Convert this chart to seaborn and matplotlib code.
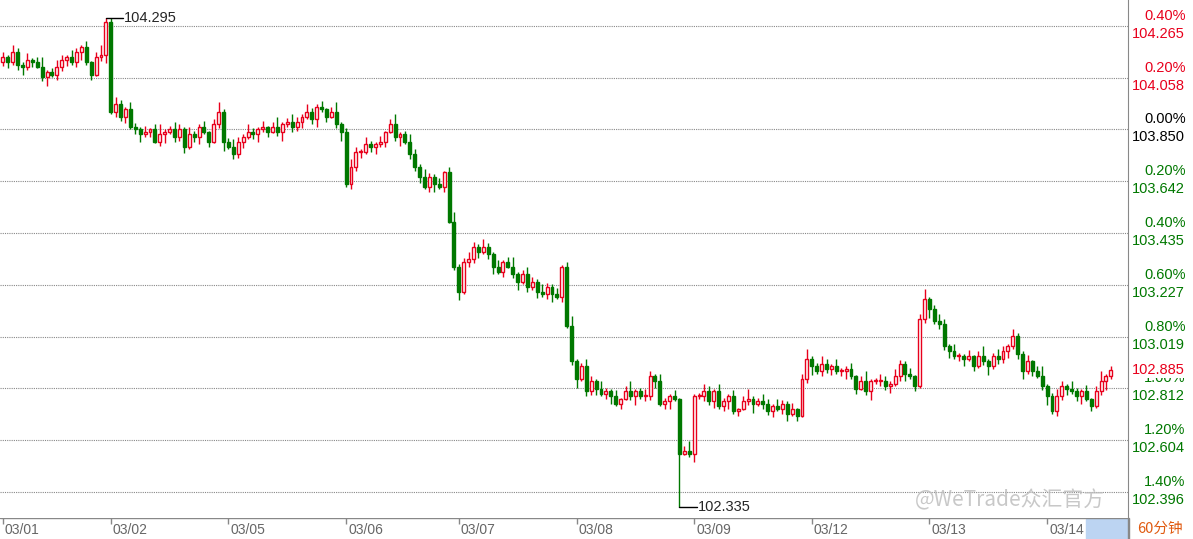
import numpy as np
import pandas as pd
import matplotlib
matplotlib.use("Agg")
import matplotlib.pyplot as plt
import seaborn as sb

# hourly closes, one list per trading day
d0301 = [104.14, 104.12, 104.16, 104.11, 104.10, 104.13, 104.12, 104.10, 104.06, 104.08, 104.07,
         104.10, 104.13, 104.14, 104.12, 104.16, 104.18, 104.12, 104.07, 104.14, 104.15, 104.28]
d0302 = [103.92, 103.95, 103.90, 103.93, 103.86, 103.85, 103.83, 103.84, 103.85, 103.80, 103.83, 103.84,
         103.85, 103.82, 103.85, 103.78, 103.83, 103.82, 103.86, 103.84, 103.80, 103.87, 103.92, 103.80]
d0305 = [103.78, 103.75, 103.80, 103.82, 103.84, 103.83, 103.85, 103.86, 103.84, 103.86, 103.84, 103.87,
         103.88, 103.86, 103.88, 103.90, 103.92, 103.89, 103.94, 103.93, 103.90, 103.92, 103.87, 103.84]
d0306 = [103.63, 103.70, 103.76, 103.76, 103.79, 103.78, 103.79, 103.80, 103.84, 103.87, 103.82, 103.83,
         103.80, 103.75, 103.70, 103.66, 103.62, 103.66, 103.63, 103.62, 103.68, 103.48, 103.30]
d0307 = [103.20, 103.32, 103.33, 103.38, 103.36, 103.38, 103.35, 103.30, 103.28, 103.32, 103.30, 103.27,
         103.24, 103.27, 103.22, 103.24, 103.20, 103.19, 103.22, 103.19, 103.18, 103.30, 103.06, 102.92]
d0308 = [102.85, 102.90, 102.80, 102.84, 102.81, 102.79, 102.80, 102.78, 102.75, 102.77, 102.80, 102.78,
         102.80, 102.78, 102.78, 102.86, 102.84, 102.75, 102.76, 102.78, 102.77, 102.55, 102.56, 102.55]
d0309 = [102.78, 102.78, 102.80, 102.76, 102.80, 102.74, 102.76, 102.78, 102.72, 102.73, 102.76, 102.77,
         102.75, 102.76, 102.75, 102.72, 102.74, 102.73, 102.75, 102.71, 102.73, 102.70, 102.85, 102.93]
d0312 = [102.90, 102.88, 102.91, 102.89, 102.90, 102.88, 102.88, 102.89, 102.86, 102.81, 102.84, 102.80,
         102.84, 102.84, 102.84, 102.82, 102.83, 102.86, 102.91, 102.87, 102.86, 102.82, 103.09, 103.17]
d0313 = [103.13, 103.08, 103.07, 102.98, 102.96, 102.94, 102.94, 102.93, 102.94, 102.90, 102.94, 102.92,
         102.90, 102.94, 102.93, 102.96, 102.98, 103.02, 102.95, 102.88, 102.92, 102.88, 102.86, 102.82]
d0314 = [102.78, 102.72, 102.78, 102.82, 102.81, 102.80, 102.78, 102.80, 102.77, 102.74, 102.80, 102.84,
         102.86, 102.885]
days = [d0301, d0302, d0305, d0306, d0307, d0308, d0309, d0312, d0313, d0314]
day_labels = ["03/01", "03/02", "03/05", "03/06", "03/07", "03/08", "03/09", "03/12", "03/13", "03/14"]

# wick lengths above / below the body (cycled)
wick_up = [0.02, 0.01, 0.03, 0.015, 0.01, 0.025, 0.005, 0.02, 0.04, 0.01, 0.015, 0.03]
wick_dn = [0.015, 0.025, 0.01, 0.02, 0.03, 0.01, 0.02, 0.005, 0.015, 0.035, 0.01, 0.02]

hi_price, lo_price = 104.295, 102.335
base = 103.850
grid_prices = [104.265, 104.058, 103.850, 103.642, 103.435, 103.227, 103.019, 102.812, 102.604, 102.396]
grid_pcts = ["0.40%", "0.20%", "0.00%", "0.20%", "0.40%", "0.60%", "0.80%", "1.00%", "1.20%", "1.40%"]
last_price = 102.885

close = np.array([v for d in days for v in d])
n = len(close)
opn = np.r_[104.12, close[:-1]]
hi = np.maximum(opn, close) + np.resize(wick_up, n)
lo = np.minimum(opn, close) - np.resize(wick_dn, n)
i_hi = int(np.argmax(close > 104.2))
hi[i_hi] = hi_price
i_lo = int(np.argmin(close))
lo[i_lo] = lo_price
df = pd.DataFrame({"o": opn, "h": hi, "l": lo, "c": close})
day_start = np.cumsum([0] + [len(d) for d in days[:-1]])

sb.set_style("white")
plt.rcParams["font.family"] = ["Liberation Sans", "Noto Sans CJK SC"]
W, H = 1193, 539
fig = plt.figure(figsize=(W / 100, H / 100), dpi=100)
ax = fig.add_axes([0, 21 / H, 1128 / W, 518 / H])
ymin, ymax = 102.292, 104.369
ax.set_ylim(ymin, ymax)
xmax = n + 2.5
ax.set_xlim(-0.6, xmax)

for p in grid_prices:
    ax.axhline(p, color="#888888", lw=0.8, ls=(0, (1, 1)), zorder=0)

red, green = "#e8001c", "#007800"
for i, r in df.iterrows():
    up = r.c >= r.o
    col = red if up else green
    ax.vlines(i, r.l, r.h, color=col, lw=1, zorder=2)
    bot, top = min(r.o, r.c), max(r.o, r.c)
    ax.bar(i, max(top - bot, 0.004), bottom=bot, width=0.6,
           color="white" if up else green, edgecolor=col, lw=1, zorder=3)

ax.plot([i_hi, i_hi + 3.5], [hi_price, hi_price], color="black", lw=1)
ax.text(i_hi + 3.7, hi_price, "104.295", fontsize=10.5, va="center")
ax.plot([i_lo, i_lo + 3.5], [lo_price, lo_price], color="black", lw=1)
ax.text(i_lo + 3.7, lo_price, "102.335", fontsize=10.5, va="center")

ax.set_xticks([])
ax.set_yticks([])
for s in ax.spines.values():
    s.set_visible(False)
ax.spines["right"].set_visible(True)
ax.spines["right"].set_color("#888888")

# right price / percent labels
for p, t in zip(grid_prices, grid_pcts):
    c = red if p > base else ("black" if p == base else green)
    ax.text(1.0145, p + 0.012, t, transform=ax.get_yaxis_transform(), color=c,
            fontsize=10.5, ha="left", va="bottom", clip_on=False)
    ax.text(1.003, p - 0.004, f"{p:.3f}", transform=ax.get_yaxis_transform(), color=c,
            fontsize=10.5, ha="left", va="top", clip_on=False)
ax.text(1.003, last_price, f"{last_price:.3f}", transform=ax.get_yaxis_transform(), color=red,
        fontsize=10.5, ha="left", va="center", clip_on=False,
        bbox=dict(fc="white", ec="none", pad=0.5))

# bottom axis
bx = fig.add_axes([0, 0, 1128 / W, 21 / H], sharex=ax)
bx.set_ylim(0, 1)
bx.axhline(1, color="#888888", lw=1)
bx.axvspan(xmax - 8.5, xmax, ymax=0.95, color="#bcd4f2")
for x0, lab in zip(day_start, day_labels):
    bx.vlines(x0, 0.72, 1, color="#888888", lw=1)
    bx.text(x0 + 0.4, 0.42, lab, color="#666666", fontsize=10, ha="left", va="center")
bx.set_xticks([])
bx.set_yticks([])
for s in bx.spines.values():
    s.set_visible(False)
fig.text(1160 / W, 10 / H, "60分钟", color="#e05a10", fontsize=10.5, ha="center", va="center",
         family=["Noto Sans CJK SC", "DejaVu Sans"])
fig.patches.append(plt.Rectangle((1128 / W, 0), 1 / W, 21 / H, transform=fig.transFigure,
                                 color="#888888"))
fig.text(1105 / W, 39 / H, "@WeTrade众汇官方", color="#bbbbbb", fontsize=15, ha="right",
         va="center", alpha=0.8, family=["Noto Sans CJK SC", "DejaVu Sans"])
sb.despine(ax=bx, left=True, bottom=True)
fig.savefig("out.png", dpi=100)
